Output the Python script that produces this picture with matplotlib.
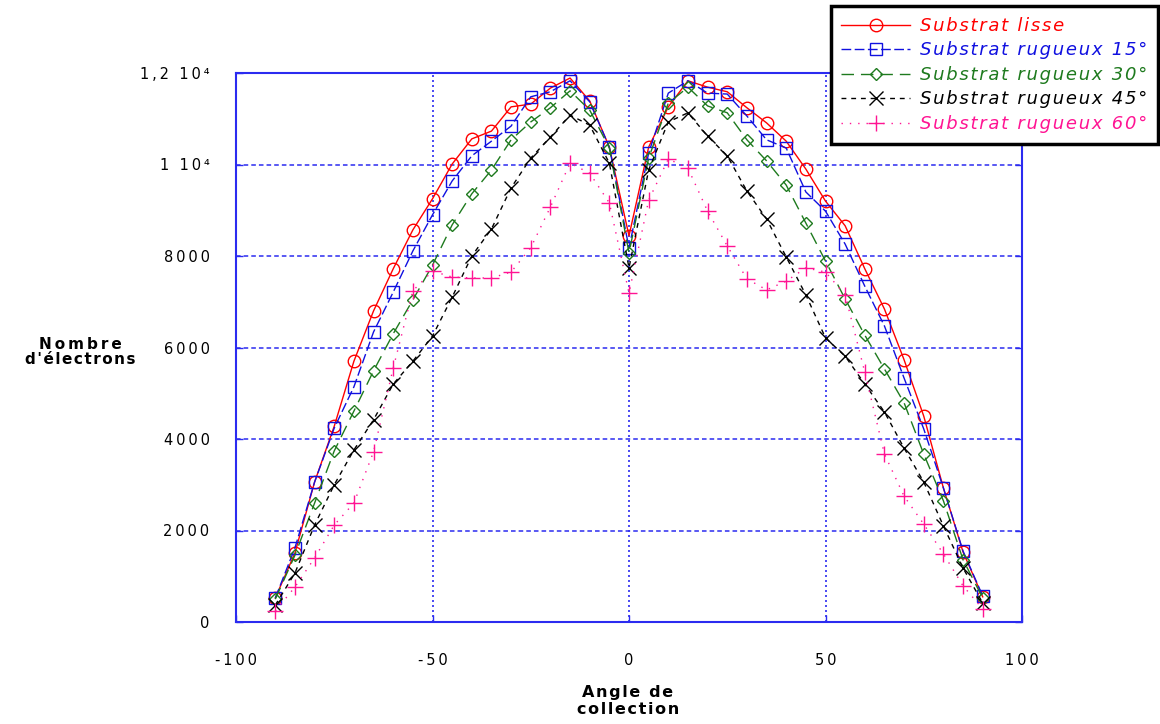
import matplotlib
matplotlib.use('Agg')
import matplotlib.pyplot as plt

# angle de collection (degres)
angles = [-90, -85, -80, -75, -70, -65, -60, -55, -50, -45, -40, -35, -30, -25, -20, -15, -10, -5, 0,
          5, 10, 15, 20, 25, 30, 35, 40, 45, 50, 55, 60, 65, 70, 75, 80, 85, 90]

lisse = [525, 1510, 3060, 4280, 5700, 6800, 7720, 8570, 9250, 10010, 10560, 10730, 11260, 11320, 11670,
         11890, 11390, 10380, 8440,
         10380, 11260, 11830, 11690, 11590, 11240, 10910, 10510, 9900, 9200, 8660, 7720, 6840, 5730,
         4500, 2930, 1530, 550]
rugueux_15 = [525, 1620, 3060, 4240, 5140, 6340, 7210, 8110, 8900, 9640, 10190, 10510, 10840, 11480,
              11590, 11830, 11370, 10380, 8175,
              10250, 11560, 11830, 11560, 11540, 11060, 10540, 10360, 9400, 8980, 8260, 7340, 6470,
              5330, 4220, 2930, 1550, 570]
rugueux_30 = [500, 1460, 2600, 3740, 4610, 5490, 6300, 7040, 7800, 8680, 9360, 9880, 10540, 10930,
              11240, 11610, 11190, 10360, 8070,
              10140, 11340, 11690, 11280, 11130, 10540, 10080, 9550, 8720, 7890, 7060, 6270, 5530,
              4790, 3670, 2650, 1360, 525]
rugueux_45 = [370, 1070, 2120, 3000, 3760, 4420, 5200, 5700, 6250, 7100, 8000, 8590, 9490, 10140,
              10600, 11080, 10860, 10030, 7740,
              9880, 10930, 11130, 10620, 10190, 9420, 8810, 7980, 7150, 6210, 5810, 5200, 4590,
              3800, 3060, 2100, 1180, 415]
rugueux_60 = [240, 765, 1400, 2120, 2600, 3720, 5550, 7240, 7670, 7540, 7520, 7520, 7650, 8180, 9070,
              10030, 9810, 9160, 7190,
              9220, 10120, 9920, 8980, 8220, 7500, 7260, 7450, 7740, 7650, 7150, 5460, 3670, 2750,
              2140, 1490, 790, 285]

series_labels = ['Substrat lisse', 'Substrat rugueux 15°', 'Substrat rugueux 30°',
                 'Substrat rugueux 45°', 'Substrat rugueux 60°']

x_ticks = [-100, -50, 0, 50, 100]
y_ticks = [0, 2000, 4000, 6000, 8000, 10000, 12000]
y_tick_labels = ['0', '2000', '4000', '6000', '8000', '1 10⁴', '1,2 10⁴']

GRID_BLUE = '#2b2bf0'


def sp(s, sep='\u2009'):
    # widen the letter spacing a little
    return sep.join(s)


fig = plt.figure(figsize=(11.6, 7.24), dpi=100)
fig.patch.set_facecolor('white')
ax = fig.add_axes([236 / 1160, 1 - 622 / 724, (1022 - 236) / 1160, (622 - 73) / 724])

styles = [
    dict(color='#ff0000', marker='o', ms=9, ls='-', lw=1.0),
    dict(color='#1010e0', marker='s', ms=9, ls=(0, (7, 2.5)), lw=1.0),
    dict(color='#1e7a1e', marker='D', ms=6.5, ls=(0, (9, 5)), lw=1.0),
    dict(color='#000000', marker='x', ms=10.5, ls=(0, (3.5, 3.5)), lw=1.0),
    dict(color='#ff1493', marker='+', ms=11, ls=(0, (1, 5)), lw=1.0),
]

for values, label, st in zip([lisse, rugueux_15, rugueux_30, rugueux_45, rugueux_60],
                             series_labels, styles):
    ax.plot(angles, values, color=st['color'], linestyle=st['ls'], linewidth=st['lw'],
            marker=st['marker'], markersize=st['ms'], markerfacecolor='none',
            markeredgecolor=st['color'], markeredgewidth=1.0, label=sp(label, '\u200a'))

ax.set_xlim(-100, 100)
ax.set_ylim(0, 12000)
ax.set_xticks(x_ticks)
ax.set_xticklabels([sp(str(t)) for t in x_ticks])
ax.set_yticks(y_ticks)
ax.set_yticklabels([sp(t) for t in y_tick_labels])

ax.xaxis.grid(True, color=GRID_BLUE, linestyle=(0, (1.2, 1.8)), linewidth=1.2)
ax.yaxis.grid(True, color=GRID_BLUE, linestyle=(0, (3, 2)), linewidth=1.1)
for s in ax.spines.values():
    s.set_color(GRID_BLUE)
    s.set_linewidth(1.5)

ax.tick_params(axis='both', direction='in', color=GRID_BLUE, length=5, width=1,
               labelsize=10.5, labelcolor='black')
ax.tick_params(axis='y', pad=19, right=True)
ax.tick_params(axis='x', pad=22, top=False)

fig.text(80 / 1160, 1 - 352 / 724, sp('Nombre') + '\n' + sp("d'électrons", '\u200a'),
         fontsize=11, fontweight='bold', ha='center', va='center', multialignment='center',
         linespacing=1.05)
fig.text(628 / 1160, 1 - 701 / 724, sp('Angle de', '\u200a') + '\n' + sp('collection', '\u200a'),
         fontsize=11.5, fontweight='bold', ha='center', va='center', multialignment='center',
         linespacing=1.25)

leg = fig.legend(loc='upper right', bbox_to_anchor=(1158 / 1160, 1 - 6 / 724),
                 prop={'style': 'italic', 'size': 13},
                 labelcolor='linecolor', frameon=True, fancybox=False, framealpha=1,
                 edgecolor='black', handlelength=3.8, handletextpad=0.55,
                 labelspacing=0.36, borderpad=0.6, borderaxespad=0)
leg.get_frame().set_linewidth(2.5)

fig.savefig('out.png', dpi=100, facecolor='white')
